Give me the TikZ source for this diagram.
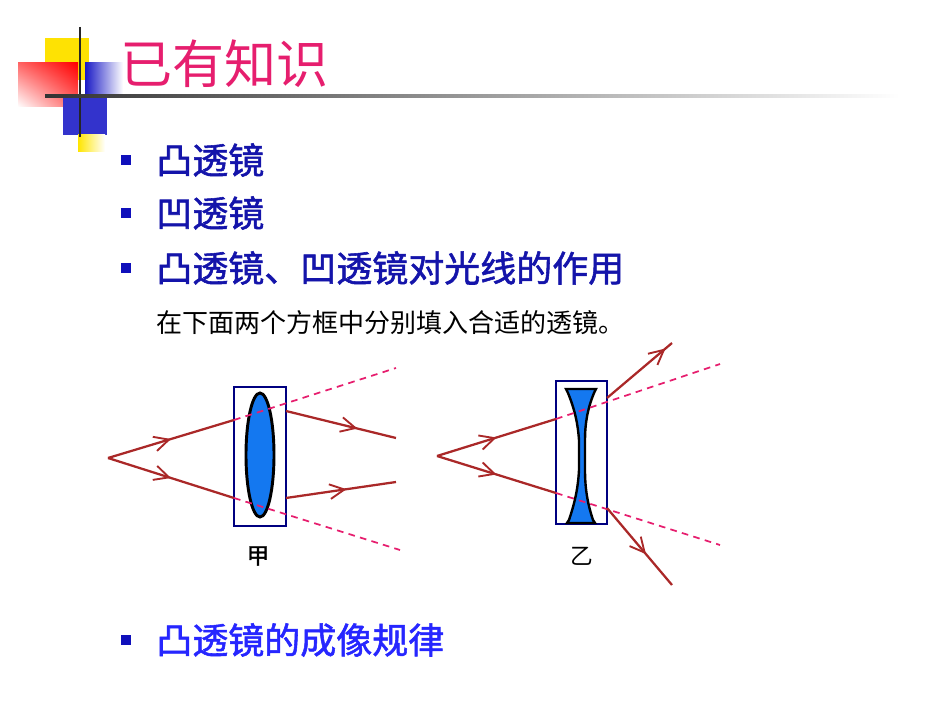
\documentclass[tikz,border=0pt]{standalone}
\usepackage{fontspec}
\newfontfamily\cjk{Noto Sans CJK SC}
\newfontfamily\cjkb[FakeBold=1.5]{Noto Sans CJK SC}
\usetikzlibrary{arrows.meta,decorations.markings,shadings}
\definecolor{ray}{RGB}{170,40,40}
\definecolor{pinkd}{RGB}{230,30,110}
\definecolor{lensb}{RGB}{20,120,240}
\definecolor{txtb}{RGB}{20,20,170}
\tikzset{
  rayline/.style={ray,line width=1.7pt},
  midarrow/.style={rayline,postaction={decorate},decoration={markings,mark=at position #1 with {\arrow{Straight Barb[length=11pt,width=11pt,line width=1.4pt]}}}},
  dashray/.style={pinkd,line width=1.3pt,dash pattern=on 5pt off 4pt},
  lensbox/.style={draw=blue!50!black,line width=1.3pt},
  bullet/.style={fill=txtb!80!blue,minimum size=7pt,inner sep=0pt},
  btext/.style={font=\cjkb\fontsize{27}{30}\selectfont,text=txtb,anchor=west,inner sep=0pt}
}
\begin{document}
\begin{tikzpicture}[x=0.75pt,y=-0.75pt]
\useasboundingbox (0,0) rectangle (950,713);
% decoration
\fill[yellow!85!orange] (45,38) rectangle (89,80);
\shade[upper right=red,upper left=red!60,lower right=red!60,lower left=white] (18,63) rectangle (78,107);
\shade[left color=blue!75!black!90,right color=white] (85,63) rectangle (123,95);
\fill[blue!75!black!80] (63,95) rectangle (107,135);
\shade[left color=yellow!80!orange,right color=white] (78,135) rectangle (105,152);
\draw[line width=2pt,black!85] (80,27) -- (80,137);
\shade[left color=black!80,right color=white] (45,95) rectangle (900,98);
% title
\node[font=\cjk\fontsize{39}{42}\selectfont,text=pinkd,anchor=west,inner sep=0pt] (title) at (120,64) {已有知识};
% bullets
\foreach \y/\t/\n in {160/凸透镜/b1,213/凹透镜/b2,268/凸透镜、凹透镜对光线的作用/b3}{
  \node[bullet] (\n s) at (126,\y) {};
  \node[btext] (\n) at (156,\y) {\t};
}
\node[bullet] (b4s) at (126,640) {};
\node[btext,text=blue!85!white] (b4) at (156,640) {凸透镜的成像规律};
\node[font=\cjk\fontsize{19.5}{22}\selectfont,anchor=west,inner sep=0pt] (sub) at (156,323) {在下面两个方框中分别填入合适的透镜。};
% left lens
\coordinate (A) at (108,458);
\node[lensbox,minimum width=39pt,minimum height=104pt,inner sep=0pt] (boxA) at (260,456.5) {};
\draw[fill=lensb,line width=2.2pt] (260,455) ellipse [x radius=14,y radius=62];
\coordinate (a1) at (234,420); \coordinate (a2) at (234,498);
\coordinate (a3) at (286,411); \coordinate (a4) at (286,498);
\draw[midarrow=0.5] (A) -- (a1);
\draw[midarrow=0.5] (A) -- (a2);
\draw[dashray] (a1) -- (396,368);
\draw[dashray] (a2) -- (400,550);
\draw[midarrow=0.65] (a3) -- (396,438);
\draw[midarrow=0.55] (a4) -- (396,482);
\node[font=\cjkb\fontsize{17}{18}\selectfont] (la) at (258,556) {甲};
% right lens
\coordinate (B) at (437,456);
\node[lensbox,minimum width=38pt,minimum height=107pt,inner sep=0pt] (boxB) at (581.5,452.5) {};
\draw[fill=lensb,line width=1.8pt] (566,389) -- (596,389) -- (594,393)
  .. controls (587,410) and (585,425) .. (585,440) -- (585,470)
  .. controls (585,490) and (588,505) .. (593,520) -- (595,523) -- (567,523) -- (569,520)
  .. controls (574,505) and (578,490) .. (579,470) -- (579,440)
  .. controls (578,425) and (575,410) .. (568,393) -- cycle;
\coordinate (b1) at (556,419); \coordinate (b2) at (556,493);
\coordinate (b3) at (607,398); \coordinate (b4) at (607,508);
\draw[midarrow=0.5] (B) -- (b1);
\draw[midarrow=0.5] (B) -- (b2);
\draw[dashray] (b1) -- (720,364);
\draw[dashray] (b2) -- (720,545);
\draw[midarrow=0.9] (b3) -- (672,343);
\draw[midarrow=0.6] (b4) -- (672,585);
\node[font=\cjk\fontsize{17}{18}\selectfont] (lb) at (582,556) {乙};
\end{tikzpicture}
\end{document}
